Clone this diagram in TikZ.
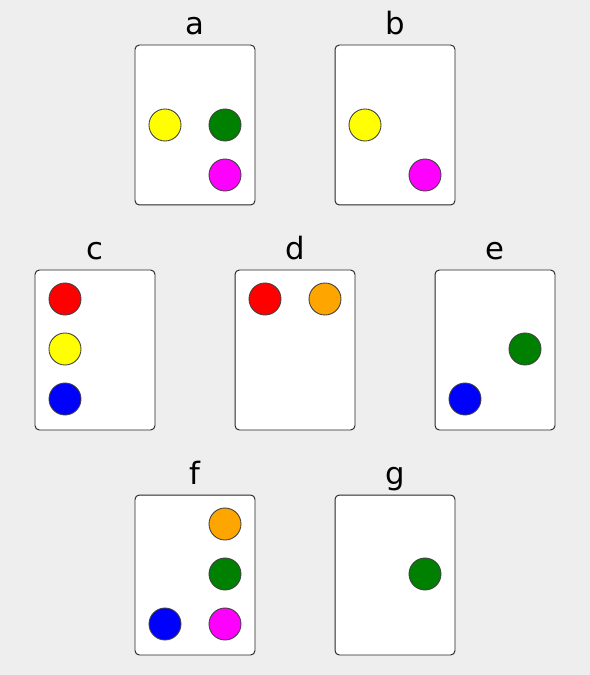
\documentclass[tikz,border=0pt]{standalone}
\usepackage{fontspec}
\setmainfont{DejaVu Sans}
\usepackage{tikz}
\usetikzlibrary{positioning}
\definecolor{bggray}{RGB}{238, 238, 238}
\definecolor{dotorange}{RGB}{255, 165, 0}
\definecolor{dotgreen}{RGB}{0, 128, 0}
\definecolor{dotmagenta}{RGB}{255, 0, 255}
\definecolor{dotyellow}{RGB}{255, 255, 0}
\definecolor{dotred}{RGB}{255, 0, 0}
\definecolor{dotblue}{RGB}{0, 0, 255}

\tikzset{
  card/.style={draw=black!85, fill=white, line width=0.55pt, rounded corners=2.5pt,
    minimum width=2.4cm, minimum height=3.2cm, inner sep=0pt},
  dot/.style={circle, draw=black!75, line width=0.5pt, minimum size=0.64cm, inner sep=0pt},
  lbl/.style={font=\fontsize{17.5}{21}\selectfont, inner sep=0pt}
}

\begin{document}
\begin{tikzpicture}[x=0.02cm, y=-0.02cm]
    \fill[bggray] (0,0) rectangle (590,675);
    \useasboundingbox (0,0) rectangle (590,675);
    % top row
    \node[card] (cardA) at (195,125) {};
    \node[card] (cardB) at (395,125) {};
    \node[lbl, above=0.21cm of cardA.north, anchor=base] (labA) {a};
    \node[lbl, above=0.21cm of cardB.north, anchor=base] (labB) {b};
    \node[dot, fill=dotyellow] (aYellow) at (165,125) {};
    \node[dot, fill=dotgreen] (aGreen) at (225,125) {};
    \node[dot, fill=dotmagenta] (aMagenta) at (225,175) {};
    \node[dot, fill=dotyellow] (bYellow) at (365,125) {};
    \node[dot, fill=dotmagenta] (bMagenta) at (425,175) {};
    % middle row
    \node[card] (cardC) at (95,350) {};
    \node[card] (cardD) at (295,350) {};
    \node[card] (cardE) at (495,350) {};
    \node[lbl, above=0.21cm of cardC.north, anchor=base] (labC) {c};
    \node[lbl, above=0.21cm of cardD.north, anchor=base] (labD) {d};
    \node[lbl, above=0.21cm of cardE.north, anchor=base] (labE) {e};
    \node[dot, fill=dotred] (cRed) at (65,299) {};
    \node[dot, fill=dotyellow] (cYellow) at (65,349) {};
    \node[dot, fill=dotblue] (cBlue) at (65,399) {};
    \node[dot, fill=dotred] (dRed) at (265,299) {};
    \node[dot, fill=dotorange] (dOrange) at (325,299) {};
    \node[dot, fill=dotgreen] (eGreen) at (525,349) {};
    \node[dot, fill=dotblue] (eBlue) at (465,399) {};
    % bottom row
    \node[card] (cardF) at (195,575) {};
    \node[card] (cardG) at (395,575) {};
    \node[lbl, above=0.21cm of cardF.north, anchor=base] (labF) {f};
    \node[lbl, above=0.21cm of cardG.north, anchor=base] (labG) {g};
    \node[dot, fill=dotorange] (fOrange) at (225,524) {};
    \node[dot, fill=dotgreen] (fGreen) at (225,574) {};
    \node[dot, fill=dotblue] (fBlue) at (165,624) {};
    \node[dot, fill=dotmagenta] (fMagenta) at (225,624) {};
    \node[dot, fill=dotgreen] (gGreen) at (425,574) {};
\end{tikzpicture}
\end{document}
